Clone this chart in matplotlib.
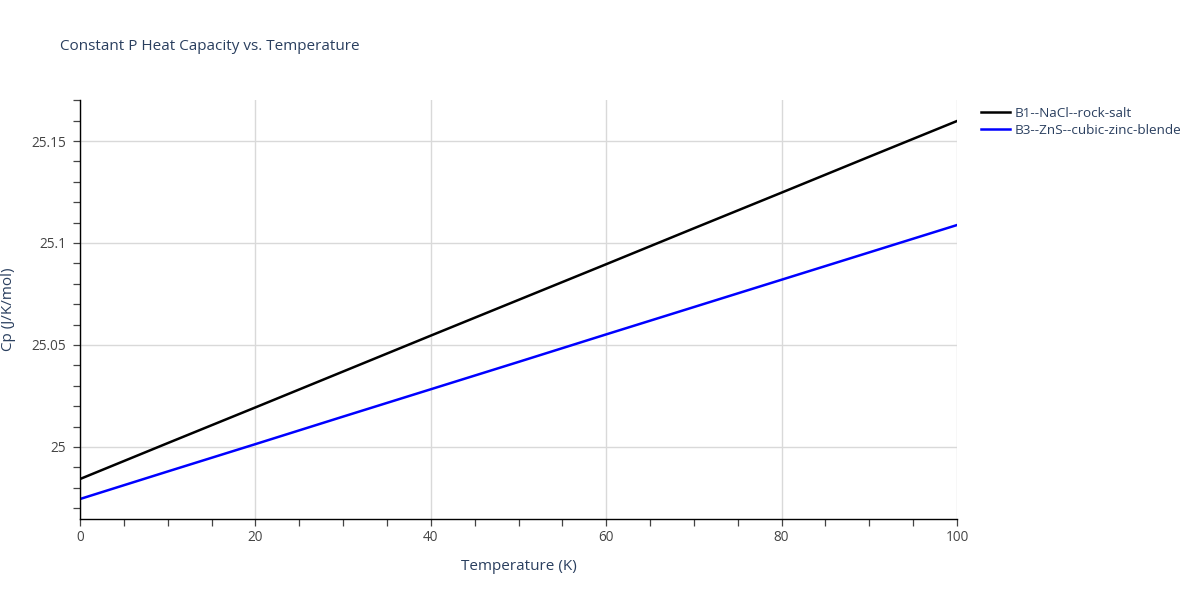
import numpy as np
import matplotlib.pyplot as plt
from matplotlib.ticker import MultipleLocator

plt.rcParams['font.family'] = ['Open Sans', 'DejaVu Sans']

# Data
temperature = [0, 10, 20, 30, 40, 50, 60, 70, 80, 90, 100]
cp_nacl = [24.9843, 25.0019, 25.0194, 25.0370, 25.0546, 25.0721, 25.0896,
           25.1072, 25.1247, 25.1423, 25.1598]
cp_zns = [24.9745, 24.9880, 25.0014, 25.0149, 25.0283, 25.0417, 25.0552,
          25.0686, 25.0820, 25.0954, 25.1088]
labels = ['B1--NaCl--rock-salt', 'B3--ZnS--cubic-zinc-blende']

text_color = '#2a3f5f'
tick_color = '#444444'

fig = plt.figure(figsize=(12, 6), dpi=100)
ax = fig.add_axes([80 / 1200, 1 - 519 / 600, 877 / 1200, 419 / 600])

ax.plot(temperature, cp_nacl, color='black', lw=1.8, label=labels[0])
ax.plot(temperature, cp_zns, color='blue', lw=1.8, label=labels[1])

ax.set_xlim(0, 100)
ax.set_ylim(24.9647, 25.1701)
ax.xaxis.set_major_locator(MultipleLocator(20))
ax.xaxis.set_minor_locator(MultipleLocator(5))
ax.yaxis.set_minor_locator(MultipleLocator(0.01))
ax.set_yticks([25, 25.05, 25.1, 25.15])
ax.set_yticklabels(['25', '25.05', '25.1', '25.15'])

ax.grid(True, which='major', color='#d9d9d9', lw=1)
ax.set_axisbelow(True)
for side in ['top', 'right']:
    ax.spines[side].set_visible(False)
for side in ['left', 'bottom']:
    ax.spines[side].set_color('black')
    ax.spines[side].set_linewidth(1)

ax.tick_params(which='both', direction='out', color=tick_color, labelcolor=tick_color,
               labelsize=9.8, width=0.9, length=5)
ax.tick_params(axis='x', which='major', pad=3)
ax.tick_params(axis='y', which='major', pad=5)

ax.set_xlabel('Temperature (K)', fontsize=11, color=text_color, labelpad=10)
ax.set_ylabel('Cp (J/K/mol)', fontsize=11, color=text_color, labelpad=11)

fig.text(60 / 1200, 1 - 46 / 600, 'Constant P Heat Capacity vs. Temperature',
         fontsize=11, color=text_color, va='center', ha='left')

leg = ax.legend(loc='upper left', bbox_to_anchor=(1.02, 1.0), frameon=False,
                fontsize=9.7, handlelength=2.1, handletextpad=0.4,
                labelspacing=0.3, borderaxespad=0.1)
for t in leg.get_texts():
    t.set_color(text_color)

plt.savefig('out.png', dpi=100)
